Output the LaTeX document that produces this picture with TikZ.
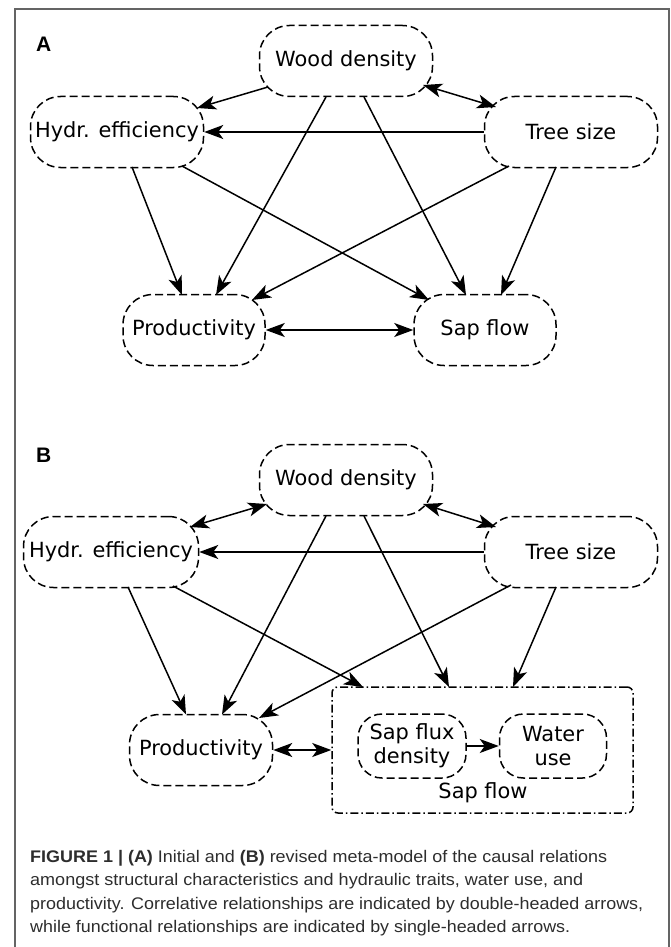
\documentclass[tikz,border=0pt]{standalone}
\usepackage{fontspec}
\usepackage{graphicx}
\setmainfont{DejaVu Sans}
\newfontfamily\capfont{Liberation Sans}
\usetikzlibrary{arrows.meta,calc}
\definecolor{framegray}{RGB}{100,100,100}
\definecolor{captext}{RGB}{45,45,45}
\tikzset{
  nodetext/.style={font=\fontsize{20.9}{24}\selectfont},
  box/.style={draw, line width=1.5pt, dash pattern=on 8pt off 4pt,
    rounded corners=30pt, minimum width=173pt, minimum height=71pt,
    inner sep=0pt, align=center, nodetext},
  smallbox/.style={box, rounded corners=24pt, minimum width=108pt, minimum height=64pt},
  groupbox/.style={draw, line width=1.5pt, dash pattern=on 8pt off 3pt on 1.5pt off 3pt,
    rounded corners=6pt, minimum width=301pt, minimum height=126pt, inner sep=0pt},
  tip/.tip={Stealth[length=19pt,width=14pt,inset=5pt]},
  conn/.style={line width=1.5pt, -tip},
  biconn/.style={line width=1.5pt, tip-tip},
  panellabel/.style={font=\capfont\bfseries\fontsize{21}{24}\selectfont, anchor=base west, inner sep=0pt},
  capline/.style={font=\capfont\fontsize{16.8}{20}\selectfont, text=captext, anchor=base west, inner sep=0pt}
}
\begin{document}
\begin{tikzpicture}[x=1pt,y=-1pt]
\useasboundingbox (0,0) rectangle (670,947);
\fill[white] (0,0) rectangle (670,947);
% frame
\draw[framegray, line width=1.6pt] (15,948) -- (15,9) -- (669,9) -- (669,948);

% ---------- Panel A ----------
\node[panellabel] (labA) at (36,52) {A};
\node[box] (wdA) at (346,61) {Wood density};
\node[box] (heA) at (117,132) {Hydr. efficiency};
\node[box] (tsA) at (571,132) {Tree size};
\node[box, minimum width=142pt] (prA) at (194,330) {Productivity};
\node[box, minimum width=142pt] (sfA) at (485,330) {Sap flow};

\draw[conn] ($(wdA)+(-78,26)$) -- ($(heA)+(80,-24)$);
\draw[biconn] ($(wdA)+(77,24)$) -- ($(tsA)+(-75,-25)$);
\draw[conn] (tsA.west) -- (heA.east);
\draw[conn] ($(wdA)+(-20,36)$) -- ($(prA)+(22,-35)$);
\draw[conn] ($(wdA)+(18,36)$) -- ($(sfA)+(-19,-35)$);
\draw[conn] ($(heA)+(15,35)$) -- ($(prA)+(-12,-35)$);
\draw[conn] ($(heA)+(65,34)$) -- ($(sfA)+(-56,-30)$);
\draw[conn] ($(tsA)+(-62,34)$) -- ($(prA)+(58,-30)$);
\draw[conn] ($(tsA)+(-15,35)$) -- ($(sfA)+(16,-35)$);
\draw[biconn] (prA.east) -- (sfA.west);

% ---------- Panel B ----------
\node[panellabel] (labB) at (36,462) {B};
\node[box] (wdB) at (346,480) {Wood density};
\node[box, minimum width=175pt] (heB) at (111,552) {Hydr. efficiency};
\node[box] (tsB) at (571,552) {Tree size};
\node[box, minimum width=143pt] (prB) at (201,750) {Productivity};
\node[groupbox] (sfB) at (482.5,750) {};
\node[smallbox] (sfdB) at (412,746) {Sap flux\\density};
\node[smallbox, minimum width=107pt] (wuB) at (553,746) {Water\\use};
\node[nodetext, inner sep=0pt] (sfBlab) at (483,793) {Sap flow};

\draw[biconn] ($(heB)+(79,-25)$) -- ($(wdB)+(-79,24)$);
\draw[biconn] ($(wdB)+(77,24)$) -- ($(tsB)+(-75,-25)$);
\draw[conn] (tsB.west) -- (heB.east);
\draw[conn] ($(wdB)+(-20,36)$) -- ($(prB)+(21,-35.5)$);
\draw[conn] ($(wdB)+(18,36)$) -- ($(sfB)+(-33.5,-63)$);
\draw[conn] ($(heB)+(17,35)$) -- ($(prB)+(-15,-35.5)$);
\draw[conn] ($(heB)+(62,34)$) -- ($(sfB)+(-119.5,-63)$);
\draw[conn] ($(tsB)+(-60,33)$) -- ($(prB)+(58,-32)$);
\draw[conn] ($(tsB)+(-15,35)$) -- ($(sfB)+(30.5,-63)$);
\draw[biconn] (prB.east) -- (sfB.west);
\draw[conn] (sfdB.east) -- (wuB.west);

% ---------- Caption ----------
\node[capline] (cap1) at (30,862) {\resizebox{577pt}{\height}{\textbf{FIGURE 1 | (A)} Initial and \textbf{(B)} revised meta-model of the causal relations}};
\node[capline] (cap2) at (30,885.5) {\resizebox{553pt}{\height}{amongst structural characteristics and hydraulic traits, water use, and}};
\node[capline] (cap3) at (30,909) {\resizebox{613pt}{\height}{productivity. Correlative relationships are indicated by double-headed arrows,}};
\node[capline] (cap4) at (30,932.5) {\resizebox{540pt}{\height}{while functional relationships are indicated by single-headed arrows.}};
\end{tikzpicture}
\end{document}
